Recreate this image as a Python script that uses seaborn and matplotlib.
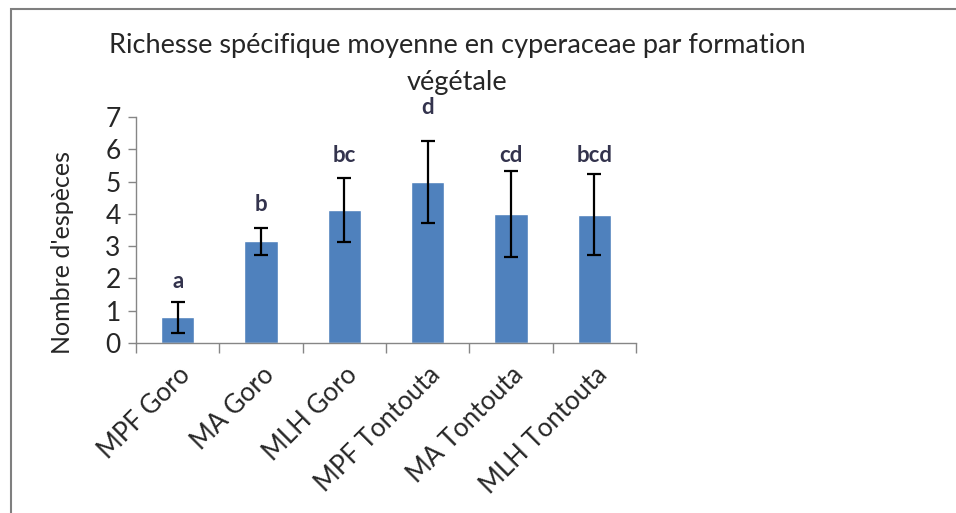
import matplotlib
matplotlib.use("Agg")
import matplotlib.pyplot as plt
import seaborn as sns
import pandas as pd
import numpy as np

# donnees
formations = ["MPF Goro", "MA Goro", "MLH Goro", "MPF Tontouta", "MA Tontouta", "MLH Tontouta"]
moyennes = [0.8, 3.15, 4.12, 5.0, 4.0, 3.98]
erreurs = [0.48, 0.42, 0.98, 1.27, 1.33, 1.25]
lettres = ["a", "b", "bc", "d", "cd", "bcd"]

sns.set_theme(style="white")
plt.rcParams['font.family'] = ['Lato', 'DejaVu Sans']

df = pd.DataFrame({"formation": formations, "moyenne": moyennes})

fig = plt.figure(figsize=(9.56, 5.13), dpi=100)
ax = fig.add_axes([136/956, 1-343/513, 500/956, 226/513])

sns.barplot(data=df, x="formation", y="moyenne", color="#4f81bd", width=0.4,
            saturation=1, ax=ax, errorbar=None)
ax.errorbar(np.arange(len(formations)), moyennes, yerr=erreurs, fmt="none",
            ecolor="black", elinewidth=1.6, capsize=5, capthick=1.6)

# lettres de significativite au dessus des barres
hauteurs_lettres = [1.9, 4.3, 5.8, 7.3, 5.8, 5.8]
for i, (l, h) in enumerate(zip(lettres, hauteurs_lettres)):
    ax.text(i, h, l, ha="center", va="center", fontsize=16, color="#33334d",
            fontweight="bold", clip_on=False)

ax.set_ylim(0, 7)
ax.set_xlim(-0.5, len(formations) - 0.5)
ax.set_yticks(range(0, 8))
ax.tick_params(axis="y", labelsize=19, length=6, width=1, color="#868686",
               left=True, pad=5)
ax.set_xticks(np.arange(len(formations)))
ax.set_xticklabels(formations, rotation=45, ha="right", rotation_mode="anchor",
                   fontsize=18.5)
ax.tick_params(axis="x", length=0, pad=14)
ax.set_xticks(np.arange(-0.5, len(formations)), minor=True)
ax.tick_params(axis="x", which="minor", length=7, width=1, color="#868686",
               bottom=True)
ax.set_xlabel("")
ax.set_ylabel("")
for s in ["top", "right"]:
    ax.spines[s].set_visible(False)
for s in ["left", "bottom"]:
    ax.spines[s].set_color("#868686")
    ax.spines[s].set_linewidth(1)

fig.text(62/956, 1-252/513, "Nombre d'espèces", rotation=90, ha="center",
         va="center", fontsize=18)
fig.text(457/956, 1-64/513, "Richesse spécifique moyenne en cyperaceae par formation\nvégétale",
         ha="center", va="center", fontsize=19.5, linespacing=1.6)

# cadre du graphique
cadre = plt.Rectangle((11/956, -0.1), 1.1, 1 - 9/513 + 0.1, transform=fig.transFigure,
                      fill=False, edgecolor="#7f7f7f", linewidth=1.5)
fig.patches.append(cadre)

fig.savefig("out.png", dpi=100)
